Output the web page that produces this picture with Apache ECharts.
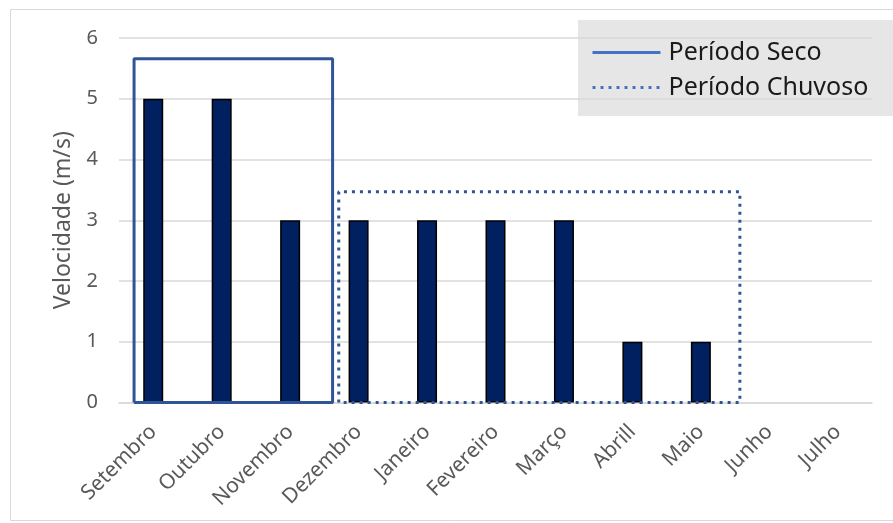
<!DOCTYPE html>
<html>
<head>
<meta charset="utf-8">
<script src="https://cdn.jsdelivr.net/npm/echarts@6/dist/echarts.min.js"></script>
<style>
  html, body { margin: 0; padding: 0; background: #fff; }
  #chart { width: 893px; height: 523px; }
</style>
</head>
<body>
<div id="chart"></div>
<script>
// dados
var meses = ['Setembro', 'Outubro', 'Novembro', 'Dezembro', 'Janeiro', 'Fevereiro', 'Março', 'Abrill', 'Maio', 'Junho', 'Julho'];
var velocidade = [5, 5, 3, 3, 3, 3, 3, 1, 1, null, null];
var yTicks = [0, 1, 2, 3, 4, 5, 6];

// caixas dos períodos (em unidades de categoria / m/s)
var secoX = [-0.28, 2.62];
var secoTopo = 5.66;
var chuvosoX = [2.71, 8.57];
var chuvosoTopo = 3.47;

function caixa(xs, topo) {
  return [[xs[0], 0], [xs[0], topo], [xs[1], topo], [xs[1], 0], [xs[0], 0]];
}

var myChart = echarts.init(document.getElementById('chart'));
var fonte = '"Noto Sans", "Open Sans", sans-serif';

var option = {
  animation: false,
  graphic: [
    { type: 'rect', shape: { x: 10.5, y: 9.5, width: 900, height: 511 }, style: { fill: 'none', stroke: '#d9d9d9', lineWidth: 1 }, z: -10 },
    { type: 'rect', shape: { x: 578, y: 20, width: 320, height: 96 }, style: { fill: '#e6e6e6' }, z: -5 }
  ],
  legend: {
    orient: 'vertical',
    left: 586,
    top: 35,
    itemWidth: 68,
    itemHeight: 14,
    itemGap: 10,
    itemStyle: { opacity: 0 },
    lineStyle: { color: '#4472C4', width: 3 },
    textStyle: { fontFamily: fonte, fontSize: 25, color: '#1a1a1a', padding: [0, 0, 0, 3] },
    data: ['Período Seco', 'Período Chuvoso']
  },
  grid: { left: 119, right: 21, top: 38, bottom: 120.5, containLabel: false },
  xAxis: [
    {
      type: 'category',
      data: meses,
      axisLine: { lineStyle: { color: '#d9d9d9', width: 1.5 } },
      axisTick: { show: false },
      axisLabel: { rotate: 45, fontFamily: fonte, fontSize: 21, color: '#595959', margin: 26 }
    },
    { type: 'value', min: -0.5, max: meses.length - 0.5, show: false }
  ],
  yAxis: {
    type: 'value',
    min: yTicks[0],
    max: yTicks[yTicks.length - 1],
    interval: 1,
    name: 'Velocidade (m/s)',
    nameLocation: 'middle',
    nameGap: 44,
    nameTextStyle: { fontFamily: fonte, fontSize: 23, color: '#595959' },
    axisLine: { show: false },
    axisTick: { show: false },
    axisLabel: { fontFamily: fonte, fontSize: 20, color: '#595959', margin: 21 },
    splitLine: { lineStyle: { color: '#d9d9d9', width: 1.5 } }
  },
  series: [
    {
      name: 'Velocidade',
      type: 'bar',
      data: velocidade,
      barWidth: 20,
      itemStyle: { color: '#002060', borderColor: '#000', borderWidth: 1.5 },
      z: 2
    },
    {
      name: 'Período Seco',
      type: 'line',
      xAxisIndex: 1,
      data: caixa(secoX, secoTopo),
      symbol: 'none',
      color: '#4472C4',
      lineStyle: { color: '#2F5597', width: 3 },
      z: 3
    },
    {
      name: 'Período Chuvoso',
      type: 'line',
      xAxisIndex: 1,
      data: caixa(chuvosoX, chuvosoTopo),
      symbol: 'none',
      color: '#4472C4',
      lineStyle: { color: '#2F5597', width: 3, type: [3, 5] },
      z: 3
    }
  ]
};

myChart.setOption(option);
window.addEventListener('resize', function () { myChart.resize(); });
</script>
</body>
</html>
